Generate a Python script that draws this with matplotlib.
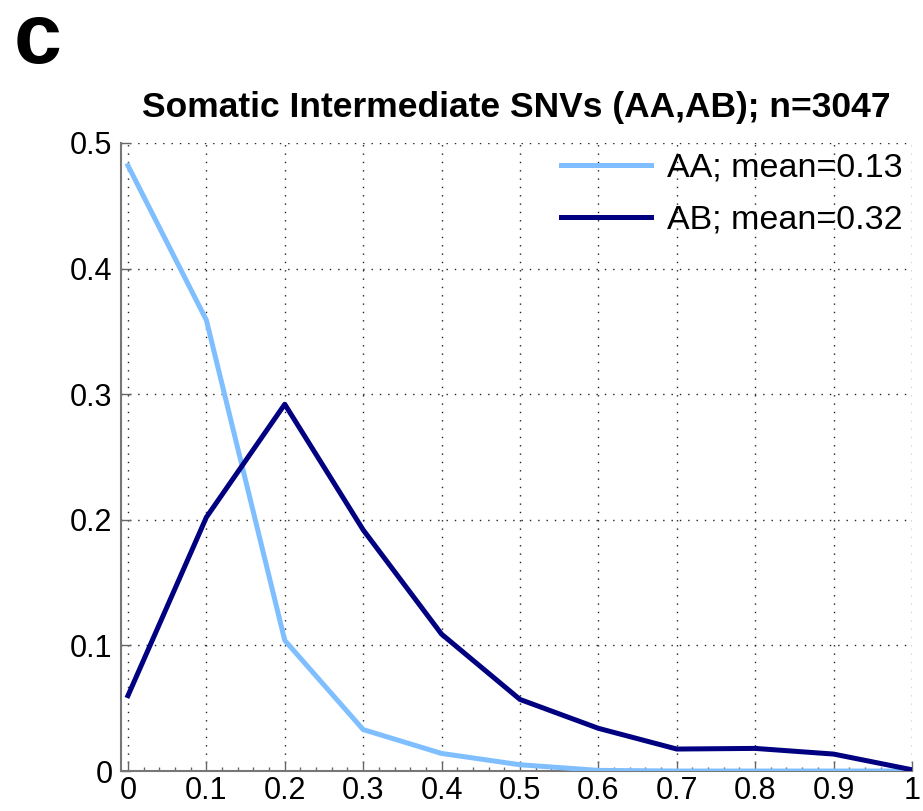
import matplotlib
matplotlib.use("Agg")
import matplotlib.pyplot as plt
from matplotlib.ticker import MultipleLocator

plt.rcParams['font.family'] = ['Liberation Sans', 'DejaVu Sans']

x = [0.0, 0.1, 0.2, 0.3, 0.4, 0.5, 0.6, 0.7, 0.8, 0.9, 1.0]
aa = [0.482, 0.359, 0.104, 0.033, 0.014, 0.005, 0.0005, 0.0, 0.0, 0.0, 0.0]
ab = [0.060, 0.202, 0.292, 0.192, 0.109, 0.057, 0.034, 0.0175, 0.018, 0.0135, 0.001]
labels = ['AA; mean=0.13', 'AB; mean=0.32']
title = 'Somatic Intermediate SNVs (AA,AB); n=3047'
xticks = [0, 0.1, 0.2, 0.3, 0.4, 0.5, 0.6, 0.7, 0.8, 0.9, 1]
xticklabels = ['0', '0.1', '0.2', '0.3', '0.4', '0.5', '0.6', '0.7', '0.8', '0.9', '1']
yticks = [0, 0.1, 0.2, 0.3, 0.4, 0.5]
yticklabels = ['0', '0.1', '0.2', '0.3', '0.4', '0.5']

fig = plt.figure(figsize=(9.23, 8.11), dpi=100)
ax = fig.add_axes([0.131, 0.0493, 0.857, 0.7744])
ax.plot(x, aa, color='#80bfff', lw=3.6, label=labels[0], zorder=3)
ax.plot(x, ab, color='#000080', lw=3.6, label=labels[1], zorder=4)
ax.set_xlim(-0.009, 1.0)
ax.set_ylim(0, 0.5)
ax.set_xticks(xticks)
ax.set_xticklabels(xticklabels, fontsize=22)
ax.set_yticks(yticks)
ax.set_yticklabels(yticklabels, fontsize=22)
ax.xaxis.set_minor_locator(MultipleLocator(0.02))
ax.tick_params(axis='both', which='major', direction='in', length=7, width=1, color='#666666', pad=6)
ax.tick_params(axis='x', which='major', pad=3.5)
ax.tick_params(axis='x', which='minor', direction='in', length=3, width=1, color='#666666')
ax.grid(True, which='major', linestyle=(0, (1, 5)), color='#222222', lw=1)
for s in ['top', 'right']:
    ax.spines[s].set_visible(False)
for s in ['left', 'bottom']:
    ax.spines[s].set_color('#777777')
    ax.spines[s].set_linewidth(1.5)
ax.set_title(title, fontsize=25.5, fontweight='bold', pad=19)
leg = ax.legend(loc='upper right', frameon=False, fontsize=24.5, handlelength=2.65,
                borderaxespad=0.0, borderpad=0.28, labelspacing=0.62, handletextpad=0.45)
fig.text(0.015, 1 - 63 / 811, 'c', fontsize=62, fontweight='bold', va='baseline')
fig.savefig('out.png', dpi=100)
